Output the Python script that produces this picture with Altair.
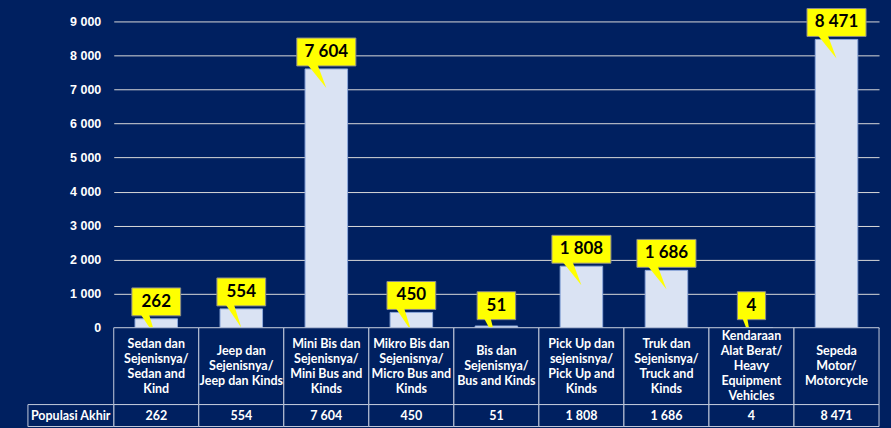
import altair as alt
import pandas as pd

# ---- data -------------------------------------------------------------
categories = [
    "Sedan dan\nSejenisnya/\nSedan and\nKind",
    "Jeep dan\nSejenisnya/\nJeep dan Kinds",
    "Mini Bis dan\nSejenisnya/\nMini Bus and\nKinds",
    "Mikro Bis dan\nSejenisnya/\nMicro Bus and\nKinds",
    "Bis dan\nSejenisnya/\nBus and Kinds",
    "Pick Up dan\nsejenisnya/\nPick Up and\nKinds",
    "Truk dan\nSejenisnya/\nTruck and\nKinds",
    "Kendaraan\nAlat Berat/\nHeavy\nEquipment\nVehicles",
    "Sepeda\nMotor/\nMotorcycle",
]
values = [262, 554, 7604, 450, 51, 1808, 1686, 4, 8471]
y_ticks = [0, 1000, 2000, 3000, 4000, 5000, 6000, 7000, 8000, 9000]
row_label = "Populasi Akhir"

df = pd.DataFrame({"cat": categories, "col": categories, "value": values})
hdr = pd.DataFrame({"label": [row_label]})

# ---- styling / layout -------------------------------------------------
NAVY = "#002060"
LINE = "#c3cbdc"
FMT = "replace(format(datum.value, ','), ',', ' ')"
TFONT = "Lato"
TSIZE = 12.5
PW, PH = 767, 307          # plot area
ROW1, ROW2 = 77, 22        # table row heights
HDR_W = 86                 # width of the row-header cell
LH = 15                    # table line height

x_bars = alt.X("cat:N", sort=categories,
               scale=alt.Scale(paddingInner=0.5, paddingOuter=0.25), axis=None)
y_scale = alt.Scale(domain=[0, 9000], nice=False)
y_axis = alt.Axis(values=y_ticks, labelExpr=FMT, labelColor="white",
                  labelFont="Liberation Sans", labelFontWeight="bold",
                  labelFontSize=12.5, labelPadding=13, labelOverlap=False,
                  ticks=False, domain=False, grid=True,
                  gridColor="#d9d9d9", gridWidth=1, title=None)

base = alt.Chart(df).transform_calculate(
    label=FMT,
    ly="max(datum.value, 150)",
).transform_calculate(
    digits="length(replace(datum.label, ' ', ''))",
).transform_calculate(
    w="18 + 10.3 * datum.digits",
).transform_calculate(
    boxpath="'M' + (-datum.w/2) + ',-28L' + (datum.w/2) + ',-28L' + (datum.w/2) + ',0L' + (-datum.w/2) + ',0Z'",
    ptrpath="'M' + (-0.32*datum.w) + ',-1.5L' + (-0.15*datum.w) + ',-1.5L0,22Z'",
)

bars = base.mark_bar(fill="#dae3f3", stroke="#8faadc", strokeWidth=1).encode(
    x=x_bars, y=alt.Y("value:Q", scale=y_scale, axis=y_axis))

box = base.mark_point(filled=True, fill="#ffff00", stroke="#8c8c8c", strokeWidth=1,
                      size=4, opacity=1, yOffset=-3).encode(
    x=x_bars, y=alt.Y("ly:Q", scale=y_scale, axis=y_axis),
    shape=alt.Shape("boxpath:N", scale=None))

ptr = base.mark_point(filled=True, fill="#ffff00", strokeWidth=0, size=4,
                      opacity=1, yOffset=-3, clip=True).encode(
    x=x_bars, y=alt.Y("ly:Q", scale=y_scale, axis=y_axis),
    shape=alt.Shape("ptrpath:N", scale=None))

txt = base.mark_text(font=TFONT, fontWeight="bold", fontSize=17, color="black",
                     align="center", baseline="middle", yOffset=-17).encode(
    x=x_bars, y=alt.Y("ly:Q", scale=y_scale, axis=y_axis), text="label:N")

bar_layer = alt.layer(bars, box, ptr, txt)

# ---- table (below the plot area) ---------------------------------------
x_tab = alt.X("col:N", sort=categories,
              scale=alt.Scale(paddingInner=0, paddingOuter=0), axis=None)

tab = alt.Chart(df)
cat_cells = tab.mark_rect(fill=NAVY, stroke=LINE, strokeWidth=1).encode(
    x=x_tab, y=alt.value(PH), y2=alt.value(PH + ROW1))
val_cells = tab.mark_rect(fill=NAVY, stroke=LINE, strokeWidth=1).encode(
    x=x_tab, y=alt.value(PH + ROW1), y2=alt.value(PH + ROW1 + ROW2))
hdr_cell = alt.Chart(hdr).mark_rect(fill=NAVY, stroke=LINE, strokeWidth=1).encode(
    x=alt.value(-HDR_W), x2=alt.value(0),
    y=alt.value(PH + ROW1), y2=alt.value(PH + ROW1 + ROW2))

cat_text = tab.transform_calculate(
    nlines="length(split(datum.col, '\\n'))"
).transform_calculate(
    ty=f"{PH + ROW1 / 2} - (datum.nlines - 1) * {LH / 2}"
).mark_text(lineBreak="\n", lineHeight=LH, font=TFONT,
            fontWeight="bold", fontSize=TSIZE, color="white",
            align="center", baseline="middle").encode(
    x=x_tab, y=alt.Y("ty:Q", scale=None, axis=None), text="col:N")
val_text = tab.transform_calculate(label=FMT).mark_text(
    font=TFONT, fontWeight="bold", fontSize=TSIZE, color="white",
    align="center", baseline="middle").encode(
    x=x_tab, y=alt.value(PH + ROW1 + ROW2 / 2), text="label:N")
hdr_text = alt.Chart(hdr).mark_text(font=TFONT, fontWeight="bold", fontSize=TSIZE,
                                    color="white", align="left",
                                    baseline="middle").encode(
    x=alt.value(-HDR_W + 3), y=alt.value(PH + ROW1 + ROW2 / 2), text="label:N")

table_layer = alt.layer(cat_cells, val_cells, hdr_cell, cat_text, val_text, hdr_text)

chart = alt.layer(bar_layer, table_layer).resolve_scale(
    x="independent"
).properties(
    width=PW, height=PH,
    padding={"left": 27, "top": 6, "right": 11, "bottom": 2},
    background=NAVY,
).configure_view(stroke=None)

chart.save("out.html", embed_options={"renderer": "svg", "actions": False})
